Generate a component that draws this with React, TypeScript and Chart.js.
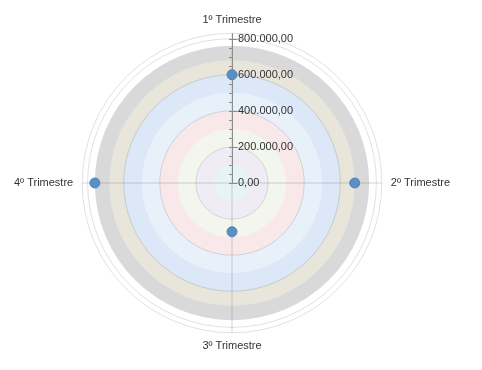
import { useEffect, useRef } from "react";
import { Chart, registerables } from "chart.js";

Chart.register(...registerables);

const categories = ["1º Trimestre", "2º Trimestre", "3º Trimestre", "4º Trimestre"];
const values = [600000, 680000, 270000, 760000];
const scaleMax = 830000;
const gridValues = [0, 200000, 400000, 600000, 800000, 830000];
const labelValues = [0, 200000, 400000, 600000, 800000];
const minorStep = 50000;
const minorMax = 800000;
const bandLimits = [100000, 200000, 300000, 400000, 500000, 600000, 680000, 760000];
const bandColors = ["#e6f4f7", "#efecf5", "#f2f6ec", "#f9e8ea", "#e8f0fa", "#dce8f7", "#e8e6da", "#d9d9d9"];

const FONT = "'Liberation Sans', Arial, sans-serif";

function fmt(v: number): string {
  const fixed = v.toFixed(2);
  const [i, d] = fixed.split(".");
  return i.replace(/\B(?=(\d{3})+(?!\d))/g, ".") + "," + d;
}

const bandsPlugin = {
  id: "bands",
  beforeDraw(chart: any) {
    const s = chart.scales.r;
    const ctx = chart.ctx;
    ctx.save();
    for (let i = bandLimits.length - 1; i >= 0; i--) {
      const r = s.getDistanceFromCenterForValue(bandLimits[i]);
      ctx.beginPath();
      ctx.arc(s.xCenter, s.yCenter, r, 0, Math.PI * 2);
      ctx.fillStyle = bandColors[i];
      ctx.fill();
    }
    ctx.restore();
  },
};

const axisPlugin = {
  id: "valueAxis",
  beforeDatasetsDraw(chart: any) {
    const s = chart.scales.r;
    const ctx = chart.ctx;
    const x = s.xCenter + 0.5;
    const yc = s.yCenter;
    ctx.save();
    ctx.strokeStyle = "#8c8c8c";
    ctx.lineWidth = 1;
    ctx.beginPath();
    ctx.moveTo(x, yc);
    ctx.lineTo(x, yc - s.getDistanceFromCenterForValue(s.max));
    for (let v = minorStep; v <= minorMax; v += minorStep) {
      const y = Math.round(yc - s.getDistanceFromCenterForValue(v)) + 0.5;
      ctx.moveTo(x - 3.5, y);
      ctx.lineTo(x, y);
    }
    for (const v of labelValues) {
      const y = Math.round(yc - s.getDistanceFromCenterForValue(v)) + 0.5;
      ctx.moveTo(x - 3.5, y);
      ctx.lineTo(x + 5, y);
    }
    ctx.stroke();
    ctx.fillStyle = "#333";
    ctx.font = "11px " + FONT;
    ctx.textAlign = "left";
    ctx.textBaseline = "middle";
    for (const v of labelValues) {
      const y = yc - s.getDistanceFromCenterForValue(v);
      ctx.fillText(fmt(v), x + 5.5, y);
    }
    ctx.restore();
  },
};

export default function App() {
  const ref = useRef<HTMLCanvasElement>(null);
  useEffect(() => {
    if (!ref.current) return;
    const chart = new Chart(ref.current, {
      type: "radar",
      data: {
        labels: categories,
        datasets: [
          {
            data: values,
            showLine: false,
            fill: false,
            borderWidth: 0,
            backgroundColor: "rgba(0,0,0,0)",
            pointRadius: 5,
            pointBorderWidth: 1,
            pointBackgroundColor: "#5b8fc3",
            pointBorderColor: "#4f84ba",
          },
        ],
      },
      options: {
        responsive: false,
        animation: false,
        layout: { padding: { top: 5, bottom: 5 } },
        plugins: { legend: { display: false }, tooltip: { enabled: false } },
        scales: {
          r: {
            min: 0,
            max: scaleMax,
            afterBuildTicks: (scale: any) => {
              scale.ticks = gridValues.map((v) => ({ value: v }));
            },
            ticks: { display: false },
            grid: { circular: true, color: "rgba(0,0,0,0.12)", lineWidth: 1 },
            angleLines: { color: "rgba(0,0,0,0.16)", lineWidth: 1 },
            pointLabels: {
              color: "#333",
              font: { family: FONT, size: 11 },
              padding: (ctx: any) => (ctx.index % 2 === 0 ? 7 : 9),
            },
          },
        },
      },
      plugins: [bandsPlugin, axisPlugin],
    });
    return () => chart.destroy();
  }, []);
  return <canvas ref={ref} width={449} height={351} style={{ display: "block" }} />;
}
